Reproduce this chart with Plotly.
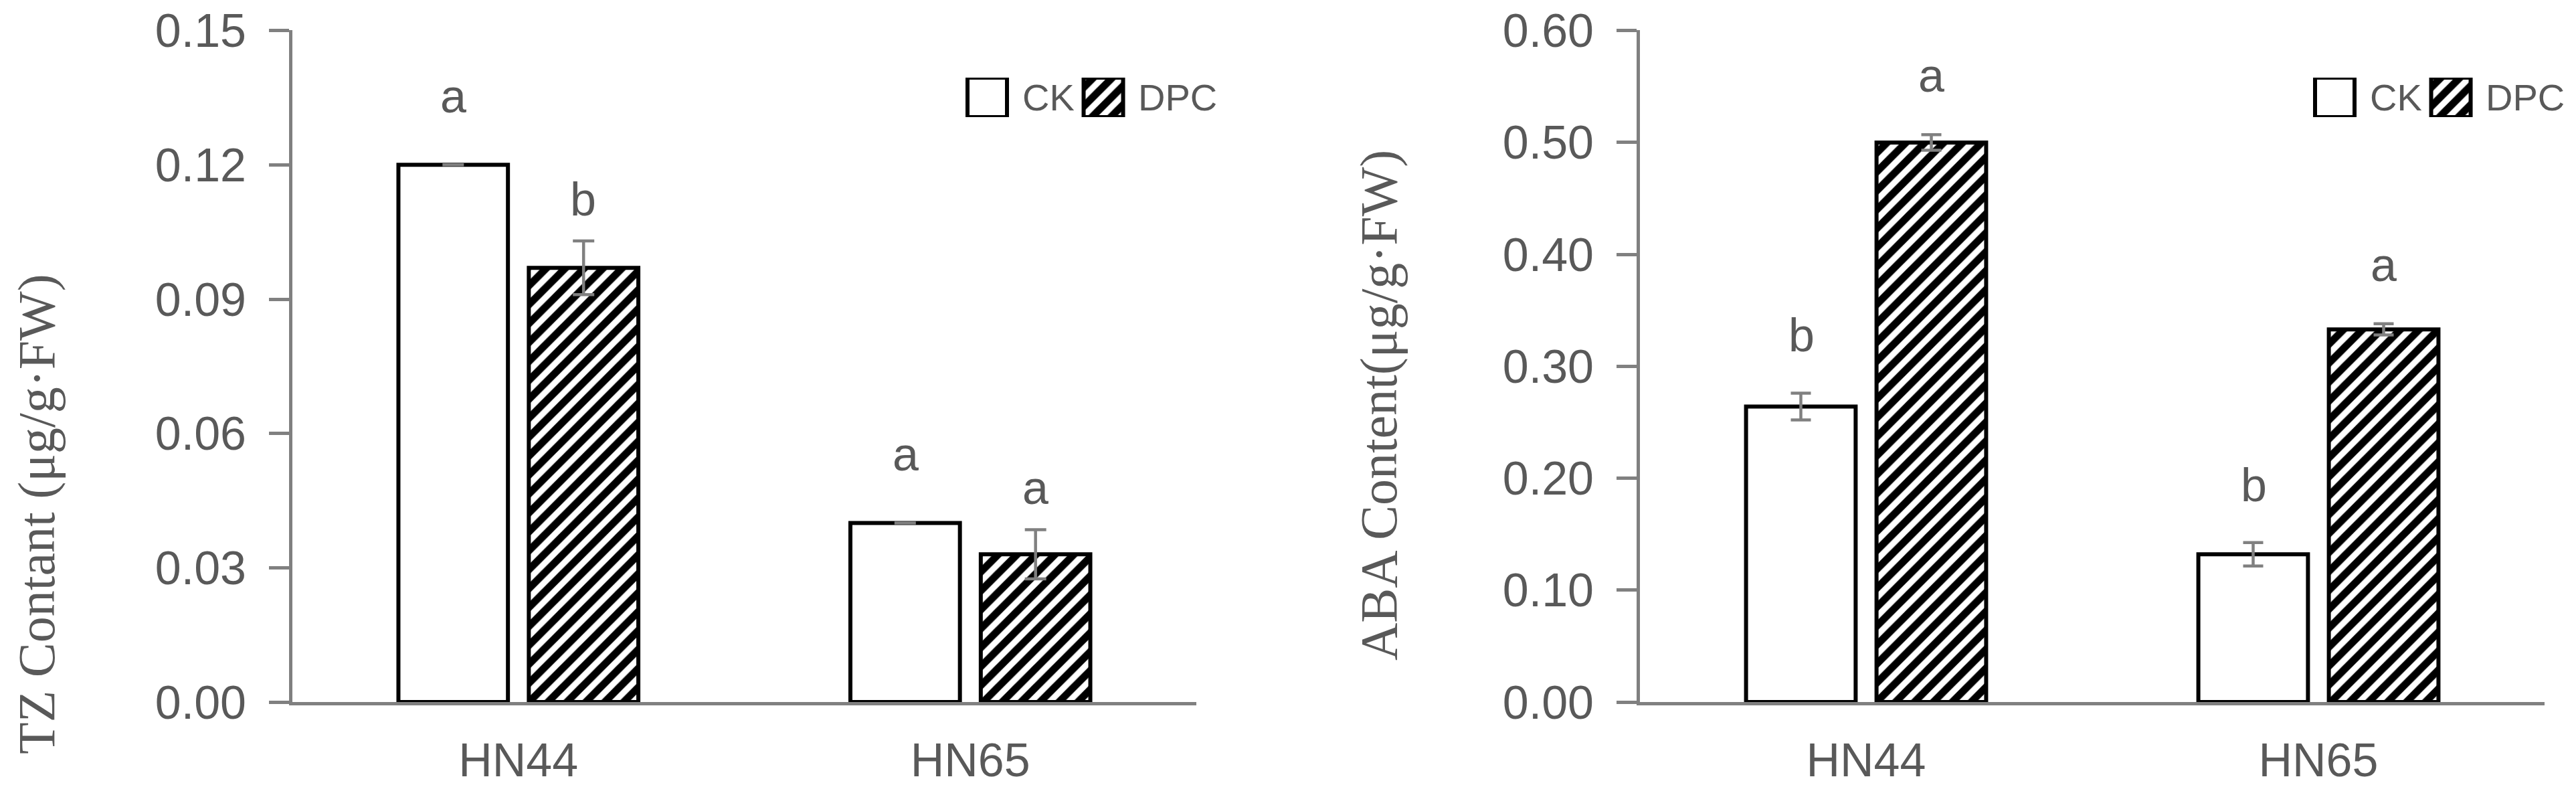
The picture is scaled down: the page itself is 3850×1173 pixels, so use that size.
import plotly.graph_objects as go

# cultivars on the x axis, treatments as bar groups
cultivars = ["HN44", "HN65"]
treatments = ["CK", "DPC"]

# TZ content (ug/g FW)
tz_ck = [0.120, 0.040]
tz_dpc = [0.097, 0.033]
tz_ck_err = [0.0, 0.0]
tz_dpc_err = [0.006, 0.0055]
tz_ck_sig = ["a", "a"]
tz_dpc_sig = ["b", "a"]
tz_ticks = [0.00, 0.03, 0.06, 0.09, 0.12, 0.15]

# ABA content (ug/g FW)
aba_ck = [0.264, 0.132]
aba_dpc = [0.500, 0.333]
aba_ck_err = [0.012, 0.0105]
aba_dpc_err = [0.007, 0.005]
aba_ck_sig = ["b", "b"]
aba_dpc_sig = ["a", "a"]
aba_ticks = [0.00, 0.10, 0.20, 0.30, 0.40, 0.50, 0.60]

W, H = 3850, 1173
GREY_TXT = "#595959"
GREY_LINE = "#808080"
TICK_FONT = dict(family="Liberation Sans, Arial, sans-serif", size=70, color=GREY_TXT)
TITLE_FONT = dict(family="Liberation Serif, Times New Roman, serif", size=78, color=GREY_TXT)

HATCH = dict(shape="/", fgcolor="black", bgcolor="white", size=20, solidity=0.55,
             fgopacity=1, fillmode="overlay")


def px_x(p):
    return p / W


def px_y(p):
    return (H - p) / H


fig = go.Figure()

panels = [
    # (xaxis, yaxis, ck, dpc, ck_err, dpc_err, ck_sig, dpc_sig, err_w, ck_gap, dpc_gap)
    ("x", "y", tz_ck, tz_dpc, tz_ck_err, tz_dpc_err, tz_ck_sig, tz_dpc_sig, 16, 102, 62),
    ("x2", "y2", aba_ck, aba_dpc, aba_ck_err, aba_dpc_err, aba_ck_sig, aba_dpc_sig, 15, 86, 88),
]

annotations = []
for xa, ya, ck, dpc, ck_err, dpc_err, ck_sig, dpc_sig, ew, ck_gap, dpc_gap in panels:
    fig.add_trace(go.Bar(
        x=cultivars, y=ck, name=treatments[0], xaxis=xa, yaxis=ya,
        marker=dict(color="white", line=dict(color="black", width=6)),
        error_y=dict(type="data", array=ck_err, visible=True, color=GREY_LINE,
                     thickness=4.5, width=ew),
        showlegend=False,
    ))
    fig.add_trace(go.Bar(
        x=cultivars, y=dpc, name=treatments[1], xaxis=xa, yaxis=ya,
        marker=dict(color="white", pattern=HATCH, line=dict(color="black", width=6)),
        error_y=dict(type="data", array=dpc_err, visible=True, color=GREY_LINE,
                     thickness=4.5, width=ew),
        showlegend=False,
    ))
    for i, c in enumerate(cultivars):
        annotations.append(dict(
            x=c, y=ck[i] + ck_err[i], xref=xa, yref=ya, text=ck_sig[i],
            showarrow=False, xshift=-97, yshift=ck_gap, yanchor="middle",
            font=TICK_FONT,
        ))
        annotations.append(dict(
            x=c, y=dpc[i] + dpc_err[i], xref=xa, yref=ya, text=dpc_sig[i],
            showarrow=False, xshift=97, yshift=dpc_gap, yanchor="middle",
            font=TICK_FONT,
        ))

# hand-made legends (large swatches) on small hidden axes
for xa, ya in [("x3", "y3"), ("x4", "y4")]:
    fig.add_trace(go.Bar(
        x=[0, 1], y=[1, 1], width=0.34, xaxis=xa, yaxis=ya,
        marker=dict(color="white",
                    pattern=dict(shape=["", "/"], fgcolor="black", bgcolor="white",
                                 size=20, solidity=0.55, fgopacity=1, fillmode="overlay"),
                    line=dict(color="black", width=6)),
        showlegend=False, hoverinfo="skip",
    ))
    for i, t in enumerate(treatments):
        annotations.append(dict(
            x=i, y=0.5, xref=xa, yref=ya, text=t, showarrow=False,
            xanchor="left", yanchor="middle", xshift=50,
            font=dict(family=TICK_FONT["family"], size=56, color=GREY_TXT),
        ))

# y axis titles
annotations.append(dict(
    x=px_x(46), y=px_y(760), xref="paper", yref="paper",
    text="TZ Contant (μg/g·FW)", textangle=-90, showarrow=False,
    xanchor="center", yanchor="middle", font=TITLE_FONT,
))
annotations.append(dict(
    x=px_x(2052), y=px_y(598), xref="paper", yref="paper",
    text="ABA Content(μg/g·FW)", textangle=-90, showarrow=False,
    xanchor="center", yanchor="middle", font=TITLE_FONT,
))

ydom = [px_y(1041), px_y(37)]

xaxis_common = dict(
    type="category", range=[-0.5, 1.5], showline=True, linecolor=GREY_LINE,
    linewidth=5, ticks="", showgrid=False, zeroline=False, tickfont=TICK_FONT,
    ticklabelstandoff=22, fixedrange=True,
)
yaxis_common = dict(
    showline=True, linecolor=GREY_LINE, linewidth=5, ticks="outside", ticklen=30,
    tickwidth=5, tickcolor=GREY_LINE, showgrid=False, zeroline=False,
    tickfont=TICK_FONT, tickformat=".2f", ticklabelstandoff=20, domain=ydom,
    ticklabeloverflow="allow", fixedrange=True,
)

legend_y = dict(domain=[px_y(167), px_y(108)], range=[0, 1], visible=False, fixedrange=True)

fig.update_layout(
    width=W, height=H,
    margin=dict(l=0, r=0, t=0, b=0, autoexpand=False),
    plot_bgcolor="white", paper_bgcolor="white",
    barmode="group", bargap=0.423, bargroupgap=0.16,
    xaxis=dict(xaxis_common, domain=[px_x(429), px_x(1780)], anchor="y"),
    yaxis=dict(yaxis_common, range=[0, 0.1501], tickvals=tz_ticks, anchor="x"),
    xaxis2=dict(xaxis_common, domain=[px_x(2443), px_x(3795)], anchor="y2"),
    yaxis2=dict(yaxis_common, range=[0, 0.6004], tickvals=aba_ticks, anchor="x2"),
    xaxis3=dict(domain=[px_x(1400), px_x(1720)], range=[-0.389, 1.455],
                visible=False, anchor="y3", fixedrange=True),
    yaxis3=dict(legend_y, anchor="x3"),
    xaxis4=dict(domain=[px_x(3414), px_x(3734)], range=[-0.389, 1.455],
                visible=False, anchor="y4", fixedrange=True),
    yaxis4=dict(legend_y, anchor="x4"),
    annotations=annotations,
    showlegend=False,
)

fig.write_html("out.html")
